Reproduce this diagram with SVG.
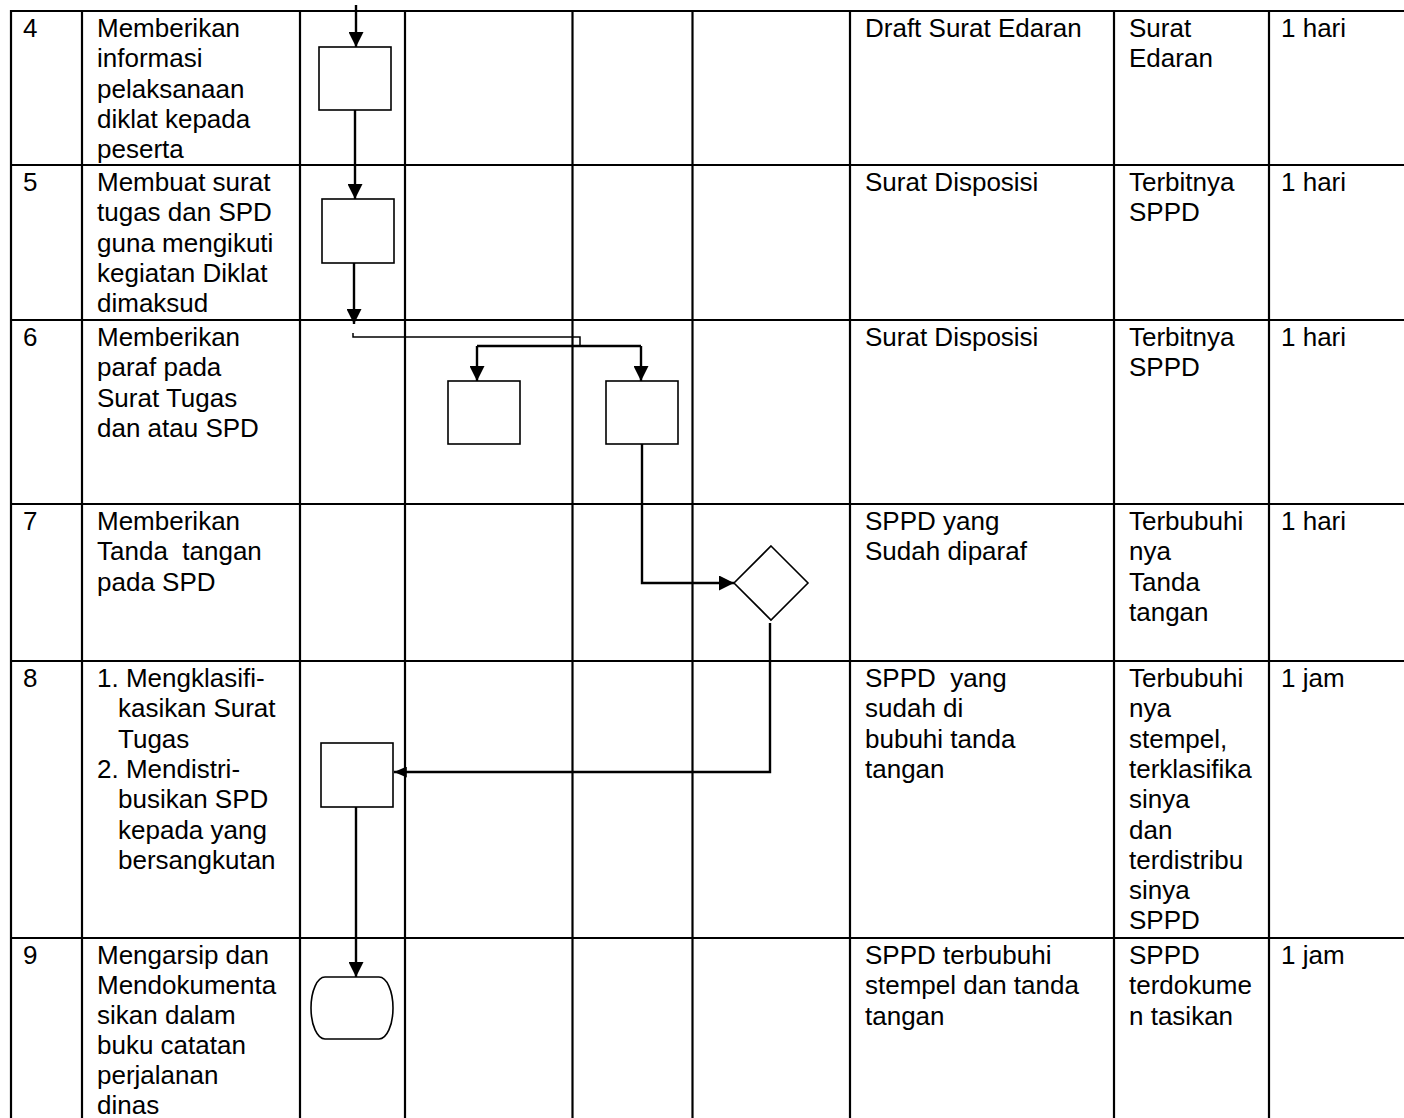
<svg xmlns="http://www.w3.org/2000/svg" width="1404" height="1118" viewBox="0 0 1404 1118">
<style>
.grid line{stroke:#000;stroke-width:2.2}
.t{font-family:"Liberation Sans",Arial,sans-serif;font-size:26px;fill:#000}
.pre{white-space:pre}
.shape{fill:#fff;stroke:#000;stroke-width:1.6}
.con{fill:none;stroke:#000;stroke-width:2.4}
.thin{fill:none;stroke:#000;stroke-width:1.5}
</style>
<defs>
<marker id="ah" viewBox="0 0 15 15" refX="15" refY="7.5" markerWidth="15" markerHeight="15" markerUnits="userSpaceOnUse" orient="auto">
<path d="M0,0 L15,7.5 L0,15 Z" fill="#000"/>
</marker>
<marker id="ahs" viewBox="0 0 14 12" refX="14" refY="6" markerWidth="13" markerHeight="11" markerUnits="userSpaceOnUse" orient="auto">
<path d="M0,0 L14,6 L0,12 Z" fill="#000"/>
</marker>
</defs>
<rect width="1404" height="1118" fill="#fff"/>
<g id="table" class="grid">
<line x1="10" y1="11" x2="1404" y2="11"/>
<line x1="10" y1="165" x2="1404" y2="165"/>
<line x1="10" y1="320" x2="1404" y2="320"/>
<line x1="10" y1="504" x2="1404" y2="504"/>
<line x1="10" y1="661" x2="1404" y2="661"/>
<line x1="10" y1="938" x2="1404" y2="938"/>
<line x1="11" y1="10" x2="11" y2="1118"/>
<line x1="82" y1="10" x2="82" y2="1118"/>
<line x1="300" y1="10" x2="300" y2="1118"/>
<line x1="405" y1="10" x2="405" y2="1118"/>
<line x1="572.5" y1="10" x2="572.5" y2="1118"/>
<line x1="692.5" y1="10" x2="692.5" y2="1118"/>
<line x1="850" y1="10" x2="850" y2="1118"/>
<line x1="1114" y1="10" x2="1114" y2="1118"/>
<line x1="1269" y1="10" x2="1269" y2="1118"/>
</g>
<g id="texts" class="t">
<g id="row4">
<text x="23" y="37">4</text>
<text y="37"><tspan x="97">Memberikan</tspan><tspan x="97" dy="30.3">informasi</tspan><tspan x="97" dy="30.3">pelaksanaan</tspan><tspan x="97" dy="30.3">diklat kepada</tspan><tspan x="97" dy="30.3">peserta</tspan></text>
<text x="865" y="37">Draft Surat Edaran</text>
<text y="37"><tspan x="1129">Surat</tspan><tspan x="1129" dy="30.3">Edaran</tspan></text>
<text x="1281" y="37">1 hari</text>
</g>
<g id="row5">
<text x="23" y="191">5</text>
<text y="191"><tspan x="97">Membuat surat</tspan><tspan x="97" dy="30.3">tugas dan SPD</tspan><tspan x="97" dy="30.3">guna mengikuti</tspan><tspan x="97" dy="30.3">kegiatan Diklat</tspan><tspan x="97" dy="30.3">dimaksud</tspan></text>
<text x="865" y="191">Surat Disposisi</text>
<text y="191"><tspan x="1129">Terbitnya</tspan><tspan x="1129" dy="30.3">SPPD</tspan></text>
<text x="1281" y="191">1 hari</text>
</g>
<g id="row6">
<text x="23" y="346">6</text>
<text y="346"><tspan x="97">Memberikan</tspan><tspan x="97" dy="30.3">paraf pada</tspan><tspan x="97" dy="30.3">Surat Tugas</tspan><tspan x="97" dy="30.3">dan atau SPD</tspan></text>
<text x="865" y="346">Surat Disposisi</text>
<text y="346"><tspan x="1129">Terbitnya</tspan><tspan x="1129" dy="30.3">SPPD</tspan></text>
<text x="1281" y="346">1 hari</text>
</g>
<g id="row7">
<text x="23" y="530">7</text>
<text y="530" class="pre"><tspan x="97">Memberikan</tspan><tspan x="97" dy="30.3">Tanda  tangan</tspan><tspan x="97" dy="30.3">pada SPD</tspan></text>
<text y="530"><tspan x="865">SPPD yang</tspan><tspan x="865" dy="30.3">Sudah diparaf</tspan></text>
<text y="530"><tspan x="1129">Terbubuhi</tspan><tspan x="1129" dy="30.3">nya</tspan><tspan x="1129" dy="30.3">Tanda</tspan><tspan x="1129" dy="30.3">tangan</tspan></text>
<text x="1281" y="530">1 hari</text>
</g>
<g id="row8">
<text x="23" y="687">8</text>
<text y="687"><tspan x="97">1. Mengklasifi-</tspan><tspan x="118" dy="30.3">kasikan Surat</tspan><tspan x="118" dy="30.3">Tugas</tspan><tspan x="97" dy="30.3">2. Mendistri-</tspan><tspan x="118" dy="30.3">busikan SPD</tspan><tspan x="118" dy="30.3">kepada yang</tspan><tspan x="118" dy="30.3">bersangkutan</tspan></text>
<text y="687" class="pre"><tspan x="865">SPPD  yang</tspan><tspan x="865" dy="30.3">sudah di</tspan><tspan x="865" dy="30.3">bubuhi tanda</tspan><tspan x="865" dy="30.3">tangan</tspan></text>
<text y="687"><tspan x="1129">Terbubuhi</tspan><tspan x="1129" dy="30.3">nya</tspan><tspan x="1129" dy="30.3">stempel,</tspan><tspan x="1129" dy="30.3">terklasifika</tspan><tspan x="1129" dy="30.3">sinya</tspan><tspan x="1129" dy="30.3">dan</tspan><tspan x="1129" dy="30.3">terdistribu</tspan><tspan x="1129" dy="30.3">sinya</tspan><tspan x="1129" dy="30.3">SPPD</tspan></text>
<text x="1281" y="687">1 jam</text>
</g>
<g id="row9">
<text x="23" y="964">9</text>
<text y="964"><tspan x="97">Mengarsip dan</tspan><tspan x="97" dy="30">Mendokumenta</tspan><tspan x="97" dy="30">sikan dalam</tspan><tspan x="97" dy="30">buku catatan</tspan><tspan x="97" dy="30">perjalanan</tspan><tspan x="97" dy="29.5">dinas</tspan></text>
<text y="964"><tspan x="865">SPPD terbubuhi</tspan><tspan x="865" dy="30.3">stempel dan tanda</tspan><tspan x="865" dy="30.3">tangan</tspan></text>
<text y="964"><tspan x="1129">SPPD</tspan><tspan x="1129" dy="30.3">terdokume</tspan><tspan x="1129" dy="30.3">n tasikan</tspan></text>
<text x="1281" y="964">1 jam</text>
</g>
</g>
<g id="nodes">
<g id="box1"><rect class="shape" x="319" y="47" width="72" height="63"/></g>
<g id="box2"><rect class="shape" x="322" y="199" width="72" height="64"/></g>
<g id="box3"><rect class="shape" x="448" y="381" width="72" height="63"/></g>
<g id="box4"><rect class="shape" x="606" y="381" width="72" height="63"/></g>
<g id="diamond"><path class="shape" d="M771,546 L808,583 L771,620 L734,583 Z"/></g>
<g id="box5"><rect class="shape" x="321" y="743" width="72" height="64"/></g>
<g id="terminator"><rect class="shape" x="311" y="977" width="82" height="62" rx="14" ry="31"/></g>
</g>
<g id="connectors">
<path class="con" d="M356,5 V47" marker-end="url(#ah)"/>
<path class="con" d="M355,110 V199" marker-end="url(#ah)"/>
<path class="con" d="M354,263 V324" marker-end="url(#ah)"/>
<path class="thin" d="M353,333 V337 H580 V346"/>
<path class="con" d="M477,346 H641"/>
<path class="con" d="M477,346 V381" marker-end="url(#ah)"/>
<path class="con" d="M641,346 V381" marker-end="url(#ah)"/>
<path class="con" d="M642,444 V583 H734" marker-end="url(#ah)"/>
<path class="con" d="M770,623 V772 H394" marker-end="url(#ahs)"/>
<path class="con" d="M356,807 V977" marker-end="url(#ah)"/>
</g>
</svg>
